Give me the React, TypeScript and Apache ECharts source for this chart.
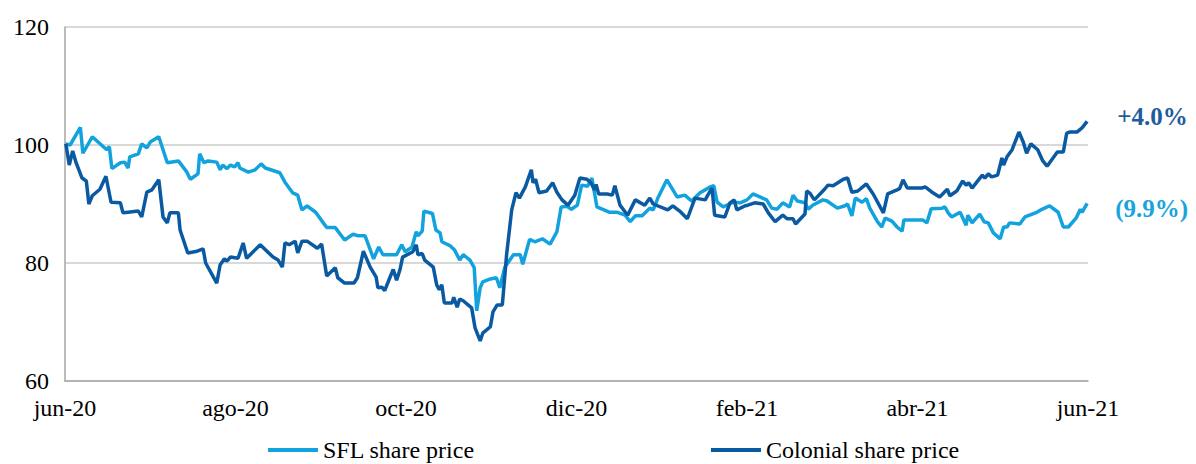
import React, { useEffect, useRef } from "react";
import * as echarts from "echarts";

// x = months elapsed since jun-20
const xLabels = ["jun-20", "ago-20", "oct-20", "dic-20", "feb-21", "abr-21", "jun-21"];
const seriesNames = ["SFL share price", "Colonial share price"];
const endLabels = ["(9.9%)", "+4.0%"];

const sflMonths = [0.01,0.06,0.18,0.21,0.32,0.45,0.49,0.52,0.55,0.65,0.70,0.74,0.76,0.86,0.90,0.96,1.00,1.10,1.20,1.33,1.43,1.47,1.56,1.58,1.63,1.68,1.78,1.82,1.85,1.90,1.94,1.99,2.03,2.05,2.15,2.23,2.30,2.35,2.52,2.58,2.67,2.73,2.78,2.84,2.94,3.03,3.07,3.17,3.28,3.38,3.44,3.52,3.62,3.68,3.73,3.89,3.95,3.99,4.07,4.12,4.14,4.19,4.21,4.31,4.35,4.40,4.42,4.52,4.57,4.63,4.67,4.75,4.80,4.83,4.87,4.90,4.99,5.06,5.10,5.16,5.26,5.34,5.37,5.45,5.51,5.60,5.69,5.77,5.82,5.89,5.94,6.01,6.06,6.13,6.18,6.24,6.39,6.48,6.57,6.63,6.69,6.77,6.86,6.90,6.96,7.06,7.18,7.27,7.35,7.45,7.57,7.61,7.65,7.72,7.84,7.92,8.00,8.07,8.15,8.23,8.29,8.35,8.42,8.50,8.54,8.59,8.68,8.72,8.77,8.89,8.94,9.06,9.15,9.18,9.23,9.27,9.35,9.40,9.44,9.53,9.58,9.62,9.70,9.76,9.82,9.84,10.06,10.11,10.16,10.29,10.32,10.36,10.40,10.50,10.57,10.59,10.64,10.73,10.78,10.83,10.89,10.97,11.01,11.05,11.08,11.20,11.26,11.40,11.46,11.55,11.65,11.71,11.77,11.86,11.91,11.93,11.99];
const sflValues = [100.2,100.0,103.0,98.6,101.4,99.7,99.2,99.7,96.0,97.0,97.1,96.1,98.0,98.5,100.2,99.5,100.5,101.4,97.0,97.3,95.4,94.2,95.1,98.5,97.0,97.3,97.1,95.8,96.6,96.0,96.6,96.3,97.0,96.1,95.4,95.8,96.8,96.1,95.3,93.7,91.9,91.5,89.0,89.7,88.6,86.8,86.0,86.0,83.9,84.9,84.6,84.6,80.7,82.7,81.4,81.4,83.1,81.9,82.7,85.3,84.6,85.4,88.8,88.4,85.6,85.1,83.6,82.9,82.2,80.5,81.4,80.5,79.2,71.9,75.8,76.8,77.3,77.5,75.8,79.3,81.4,81.4,79.8,84.0,83.6,84.1,83.2,85.3,89.5,89.6,89.1,89.8,93.2,93.0,94.4,89.5,88.6,88.6,88.1,87.0,88.0,88.0,89.3,89.0,91.2,94.1,91.2,91.5,90.5,91.9,92.9,93.1,90.3,89.5,90.3,90.2,90.7,91.7,91.2,90.7,89.3,89.1,90.2,89.5,91.5,90.5,90.2,89.1,89.8,90.7,90.5,89.3,89.7,90.0,88.0,91.0,90.3,90.9,89.3,87.0,86.1,87.6,87.1,86.1,85.4,87.3,87.3,86.8,89.2,89.3,89.5,88.5,87.8,88.6,86.4,88.1,86.8,88.3,87.0,86.8,85.1,84.1,86.1,86.1,86.8,86.6,87.8,88.6,89.1,89.7,88.6,86.1,86.1,87.6,89.1,88.6,90.1];

const colMonths = [0.01,0.05,0.09,0.13,0.20,0.25,0.28,0.32,0.41,0.48,0.54,0.65,0.68,0.74,0.86,0.90,0.96,1.02,1.10,1.15,1.20,1.23,1.33,1.35,1.44,1.55,1.62,1.65,1.78,1.82,1.87,1.90,1.94,2.03,2.09,2.13,2.29,2.44,2.50,2.55,2.58,2.63,2.70,2.73,2.78,2.84,2.96,3.01,3.07,3.17,3.20,3.28,3.39,3.43,3.50,3.58,3.65,3.67,3.72,3.75,3.81,3.85,3.89,3.93,3.96,4.08,4.12,4.14,4.19,4.22,4.32,4.36,4.39,4.42,4.45,4.54,4.56,4.60,4.63,4.67,4.77,4.81,4.87,4.90,4.99,5.02,5.07,5.13,5.18,5.24,5.29,5.33,5.40,5.47,5.49,5.52,5.56,5.65,5.72,5.77,5.83,5.90,5.98,6.04,6.12,6.17,6.21,6.23,6.26,6.36,6.42,6.45,6.51,6.60,6.69,6.80,6.86,6.90,7.07,7.13,7.21,7.30,7.39,7.51,7.54,7.59,7.62,7.74,7.80,7.85,7.88,7.98,8.01,8.09,8.19,8.25,8.33,8.42,8.47,8.54,8.57,8.68,8.70,8.74,8.79,8.91,8.95,9.01,9.13,9.18,9.23,9.30,9.40,9.48,9.60,9.65,9.76,9.79,9.83,9.88,10.05,10.09,10.17,10.26,10.35,10.38,10.46,10.53,10.57,10.60,10.64,10.76,10.79,10.83,10.87,10.94,10.99,11.01,11.05,11.11,11.19,11.24,11.28,11.33,11.41,11.47,11.52,11.64,11.71,11.75,11.79,11.87,11.93,11.99];
const colValues = [100.2,96.6,99.0,97.0,94.4,93.9,90.0,91.4,92.5,94.7,90.3,90.2,88.5,88.6,88.8,87.8,92.0,92.4,94.1,87.8,86.8,88.5,88.5,85.6,81.7,82.0,82.4,80.0,76.6,79.7,80.7,80.3,81.0,80.8,83.4,80.8,83.1,81.0,80.5,79.3,83.4,83.1,83.7,81.7,83.7,83.7,82.5,83.2,77.8,79.2,77.5,76.6,76.6,77.5,82.0,79.3,77.6,75.8,75.9,75.3,77.5,78.9,77.1,78.9,81.0,81.9,83.1,81.4,81.6,80.5,79.3,76.3,75.5,76.3,73.2,73.2,74.2,72.5,73.9,73.6,72.4,69.0,66.8,68.1,69.2,71.7,72.9,72.9,81.4,89.0,91.9,91.0,92.9,95.8,93.6,94.2,91.9,92.2,93.6,92.0,90.7,89.8,91.5,94.4,94.2,93.6,92.4,93.3,91.7,91.7,91.5,93.1,89.8,88.1,90.7,89.8,91.0,90.0,89.0,89.7,88.8,87.5,91.0,90.7,91.5,92.7,88.1,87.8,90.2,90.7,89.0,89.7,89.8,90.2,90.0,88.5,87.0,88.1,87.5,87.5,86.6,88.3,92.2,91.8,90.7,92.5,93.2,93.1,94.2,94.4,92.0,92.2,93.4,91.7,88.5,91.7,92.4,92.6,94.1,92.7,92.7,92.9,92.0,91.2,92.5,91.4,92.2,93.9,93.2,93.6,92.7,94.9,94.4,95.1,94.6,94.9,97.8,96.6,98.0,99.2,102.2,100.5,98.6,100.2,99.2,97.3,96.4,98.8,98.8,102.0,102.2,102.2,102.9,104.0];

const SFL_COLOR = "#12A3DE";
const COL_COLOR = "#0A5AA2";
const FONT = "'Liberation Serif', 'Times New Roman', serif";

export default function App() {
  const ref = useRef<HTMLDivElement>(null);
  useEffect(() => {
    if (!ref.current) return;
    const chart = echarts.init(ref.current, undefined, { renderer: "svg" });
    const zip = (xs: number[], ys: number[]) => xs.map((x, i) => [x, ys[i]]);
    chart.setOption({
      animation: false,
      backgroundColor: "#ffffff",
      textStyle: { fontFamily: FONT },
      grid: { left: 65, right: 108, top: 27, bottom: 83 },
      legend: {
        left: 268,
        top: 438,
        padding: 0,
        itemGap: 236,
        itemWidth: 50,
        itemHeight: 4,
        icon: "rect",
        textStyle: { fontFamily: FONT, fontSize: 24, color: "#000", lineHeight: 24 },
        data: seriesNames,
      },
      xAxis: {
        type: "value",
        min: 0,
        max: 12,
        interval: 2,
        axisLine: { show: true, lineStyle: { color: "#A6A6A6", width: 1.5 } },
        axisTick: { show: false },
        splitLine: { show: false },
        axisLabel: {
          fontFamily: FONT,
          fontSize: 24,
          color: "#000",
          margin: 15,
          formatter: (v: number) => xLabels[Math.round(v / 2)] ?? "",
        },
      },
      yAxis: {
        type: "value",
        min: 60,
        max: 120,
        interval: 20,
        axisLine: { show: true, lineStyle: { color: "#A6A6A6", width: 1.5 } },
        axisTick: { show: false },
        splitLine: { show: true, lineStyle: { color: "#D9D9D9", width: 2 } },
        axisLabel: { fontFamily: FONT, fontSize: 24, color: "#000", margin: 16 },
      },
      series: [
        {
          name: seriesNames[0],
          type: "line",
          data: zip(sflMonths, sflValues),
          showSymbol: false,
          symbol: "none",
          color: SFL_COLOR,
          lineStyle: { color: SFL_COLOR, width: 3.5 },
          z: 2,
          endLabel: {
            show: true,
            formatter: endLabels[0],
            distance: 28,
            offset: [0, 5],
            fontFamily: FONT,
            fontSize: 25,
            fontWeight: "bold",
            color: "#1AA4DC",
          },
        },
        {
          name: seriesNames[1],
          type: "line",
          data: zip(colMonths, colValues),
          showSymbol: false,
          symbol: "none",
          color: COL_COLOR,
          lineStyle: { color: COL_COLOR, width: 3.5 },
          z: 3,
          endLabel: {
            show: true,
            formatter: endLabels[1],
            distance: 30,
            offset: [0, -5],
            fontFamily: FONT,
            fontSize: 25,
            fontWeight: "bold",
            color: "#1F5C9E",
          },
        },
      ],
    });
    return () => chart.dispose();
  }, []);
  return (
    <div
      ref={ref}
      style={{ position: "fixed", left: 0, top: 0, width: 1196, height: 464, background: "#fff" }}
    />
  );
}
